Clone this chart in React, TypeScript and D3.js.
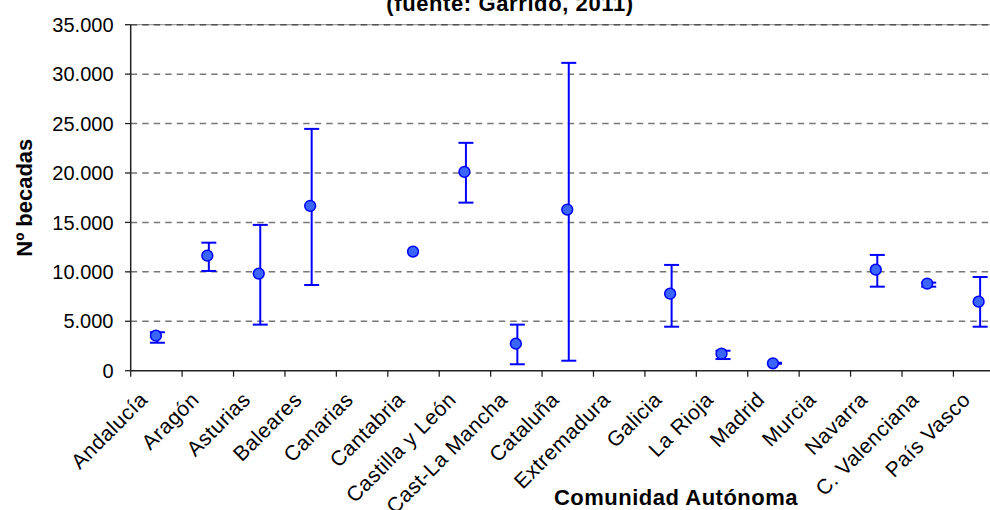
import React, { useEffect, useRef } from "react";
import * as d3 from "d3";

const categories = [
  "Andalucía", "Aragón", "Asturias", "Baleares", "Canarias", "Cantabria",
  "Castilla y León", "Cast-La Mancha", "Cataluña", "Extremadura", "Galicia",
  "La Rioja", "Madrid", "Murcia", "Navarra", "C. Valenciana", "País Vasco",
];
const values: (number | null)[] = [3540, 11640, 9820, 16670, null, 12050, 20110, 2730, 16300, null, 7790, 1720, 750, null, 10220, 8810, 6980];
const upper: (number | null)[] = [3890, 12950, 14750, 24460, null, null, 23050, 4660, 31140, null, 10700, 2020, 800, null, 11710, 8910, 9480];
const lower: (number | null)[] = [2830, 10090, 4660, 8670, null, null, 17000, 650, 1010, null, 4450, 1180, 700, null, 8500, 8500, 4450];
const yTicks = [0, 5000, 10000, 15000, 20000, 25000, 30000, 35000];

const titleText = "(fuente: Garrido, 2011)";
const xTitle = "Comunidad Autónoma";
const yTitle = "Nº becadas";

const W = 990, H = 510;
const left = 130.7, top = 24.7, bottom = 370.7, band = 51.42;
const FONT = "'Liberation Sans', Arial, sans-serif";

export default function App() {
  const ref = useRef<SVGSVGElement>(null);
  useEffect(() => {
    const svg = d3.select(ref.current);
    svg.selectAll("*").remove();
    const x = d3.scaleBand<string>().domain(categories).range([left, left + band * categories.length]).padding(0);
    const y = d3.scaleLinear().domain([0, 35000]).range([bottom, top]);
    const fmt = d3.formatLocale({ decimal: ",", thousands: ".", grouping: [3], currency: ["", "€"] }).format(",d");

    // top solid line under dashed grid
    svg.append("line").attr("x1", left).attr("x2", W).attr("y1", y(35000)).attr("y2", y(35000))
      .attr("stroke", "#a0a0a0").attr("stroke-width", 1.3);
    // gridlines
    svg.append("g").selectAll("line").data(yTicks.filter(t => t > 0)).join("line")
      .attr("x1", left).attr("x2", W)
      .attr("y1", d => y(d)).attr("y2", d => y(d))
      .attr("stroke", d => d === 35000 ? "#505050" : "#777")
      .attr("stroke-width", 1.5).attr("stroke-dasharray", "6.5,5");

    // y axis
    svg.append("line").attr("x1", left).attr("x2", left).attr("y1", top).attr("y2", bottom)
      .attr("stroke", "#222").attr("stroke-width", 1.5);
    const yt = svg.append("g");
    yt.selectAll("line").data(yTicks).join("line")
      .attr("x1", left - 5.7).attr("x2", left).attr("y1", d => y(d)).attr("y2", d => y(d))
      .attr("stroke", "#222").attr("stroke-width", 1.3);
    yt.selectAll("text").data(yTicks).join("text")
      .attr("x", 113.5).attr("y", d => y(d)).attr("dy", "0.36em")
      .attr("text-anchor", "end").attr("font-family", FONT).attr("font-size", 20).attr("fill", "#000")
      .text(d => fmt(d));

    // x axis
    svg.append("line").attr("x1", left).attr("x2", W).attr("y1", bottom).attr("y2", bottom)
      .attr("stroke", "#222").attr("stroke-width", 1.5);
    const bounds = d3.range(categories.length + 1).map(i => left + i * x.bandwidth());
    svg.append("g").selectAll("line").data(bounds).join("line")
      .attr("x1", d => d).attr("x2", d => d).attr("y1", bottom).attr("y2", bottom + 6)
      .attr("stroke", "#222").attr("stroke-width", 1.3);
    svg.append("g").selectAll("text").data(categories).join("text")
      .attr("transform", d => `translate(${(x(d) as number) + x.bandwidth() / 2 - 7.5},${401}) rotate(-45)`)
      .attr("text-anchor", "end").attr("font-family", FONT).attr("font-size", 21)
      .attr("letter-spacing", 0.5).attr("fill", "#000")
      .text(d => d);

    // error bars
    const cx = (i: number) => (x(categories[i]) as number) + x.bandwidth() / 2;
    const eb = svg.append("g").attr("stroke", "#0000ff").attr("stroke-width", 2).attr("fill", "none");
    categories.forEach((c, i) => {
      const u = upper[i], l = lower[i];
      if (u == null || l == null) return;
      const bx = cx(i) + 1;
      eb.append("line").attr("x1", bx).attr("x2", bx).attr("y1", y(u)).attr("y2", y(l));
      eb.append("line").attr("x1", bx - 7.5).attr("x2", bx + 7.5).attr("y1", y(u)).attr("y2", y(u));
      eb.append("line").attr("x1", bx - 7.5).attr("x2", bx + 7.5).attr("y1", y(l)).attr("y2", y(l));
    });

    // points
    const pts = categories.map((c, i) => ({ i, v: values[i] })).filter(p => p.v != null);
    svg.append("g").selectAll("circle").data(pts).join("circle")
      .attr("cx", p => cx(p.i) - 0.5).attr("cy", p => y(p.v as number)).attr("r", 5.4)
      .attr("fill", "#3a66ff").attr("stroke", "#0000ff").attr("stroke-width", 1.5);

    // titles
    svg.append("text").attr("x", 510).attr("y", 11).attr("text-anchor", "middle")
      .attr("font-family", FONT).attr("font-size", 22).attr("font-weight", "bold").attr("letter-spacing", 0.6)
      .text(titleText);
    svg.append("text").attr("x", 676).attr("y", 505).attr("text-anchor", "middle")
      .attr("font-family", FONT).attr("font-size", 22).attr("font-weight", "bold").attr("letter-spacing", 0.5)
      .text(xTitle);
    svg.append("text").attr("transform", `translate(32,${(top + bottom) / 2}) rotate(-90)`).attr("text-anchor", "middle")
      .attr("font-family", FONT).attr("font-size", 22).attr("font-weight", "bold")
      .text(yTitle);
  }, []);
  return (
    <svg ref={ref} width={W} height={H} style={{ position: "fixed", left: 0, top: 0, background: "#fff" }} />
  );
}
